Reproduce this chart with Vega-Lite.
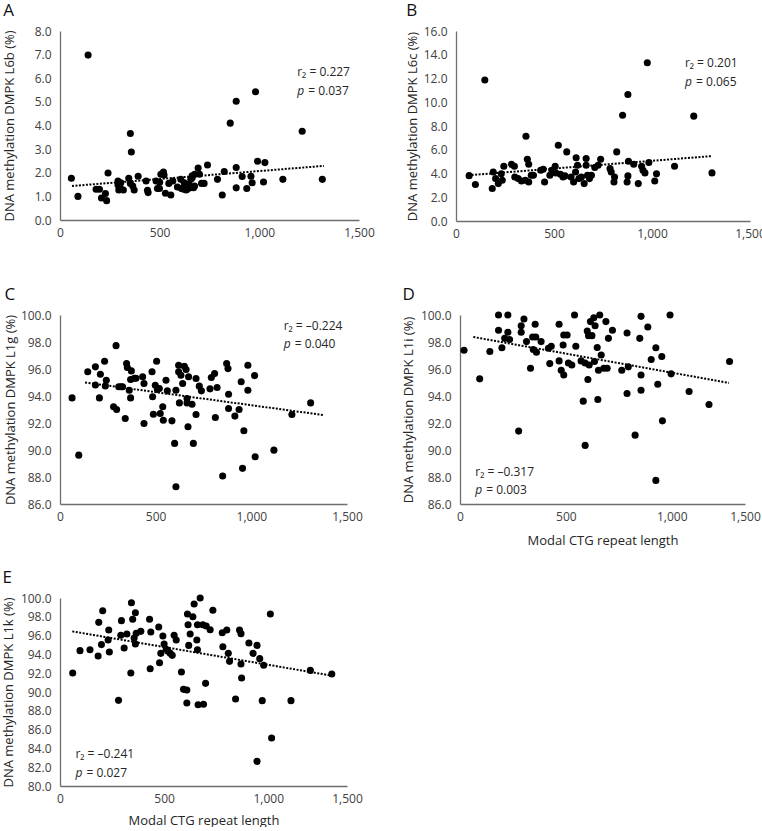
{
  "$schema": "https://vega.github.io/schema/vega-lite/v6.json",
  "padding": {"left": 2, "top": 2, "right": 0, "bottom": 0},
  "background": "white",
  "config": {
    "view": {"stroke": null},
    "font": "Open Sans",
    "axis": {"domainColor": "#6e6e6e", "domainWidth": 1.3, "ticks": false, "tickSize": 0, "grid": false, "labelFont": "Open Sans", "labelFontSize": 12, "labelColor": "#404040", "labelPadding": 7, "labelOverlap": false, "labelFlush": false, "titleFont": "Open Sans", "titleFontSize": 13, "titleFontWeight": "normal", "titleColor": "#262626"},
    "axisY": {"labelPadding": 9, "labelOverlap": false, "labelSeparation": -40},
    "title": {"font": "Open Sans", "fontSize": 17, "fontWeight": "normal", "anchor": "start", "frame": "bounds", "color": "#111111", "offset": 5}
  },
  "datasets": {
    "A": [
      {"x":57,"y":1.77},{"x":90,"y":1.0},{"x":141,"y":6.98},{"x":181,"y":1.30},{"x":198,"y":1.30},{"x":208,"y":0.93},{"x":228,"y":1.12},{"x":234,"y":0.82},{"x":241,"y":1.99},{"x":291,"y":1.65},{"x":295,"y":1.27},{"x":305,"y":1.58},{"x":318,"y":1.27},{"x":345,"y":1.77},{"x":353,"y":3.66},{"x":358,"y":2.88},{"x":353,"y":1.55},{"x":365,"y":1.44},{"x":372,"y":1.27},{"x":392,"y":1.85},{"x":432,"y":1.65},{"x":439,"y":1.26},{"x":442,"y":1.16},{"x":482,"y":1.65},{"x":489,"y":1.33},{"x":499,"y":1.33},{"x":506,"y":1.94},{"x":519,"y":2.03},{"x":529,"y":1.13},{"x":556,"y":1.06},{"x":546,"y":1.55},{"x":566,"y":1.65},{"x":589,"y":1.40},{"x":606,"y":1.72},{"x":609,"y":1.33},{"x":623,"y":1.58},{"x":626,"y":1.41},{"x":633,"y":1.27},{"x":643,"y":1.36},{"x":656,"y":1.72},{"x":663,"y":1.87},{"x":670,"y":1.37},{"x":676,"y":1.94},{"x":693,"y":2.20},{"x":700,"y":1.94},{"x":710,"y":1.55},{"x":723,"y":1.55},{"x":740,"y":2.33},{"x":790,"y":1.72},{"x":814,"y":1.06},{"x":824,"y":2.05},{"x":854,"y":4.10},{"x":884,"y":5.03},{"x":884,"y":2.22},{"x":884,"y":1.36},{"x":914,"y":1.84},{"x":937,"y":1.33},{"x":958,"y":1.85},{"x":964,"y":1.58},{"x":981,"y":5.43},{"x":991,"y":2.49},{"x":1021,"y":1.61},{"x":1028,"y":2.43},{"x":1118,"y":1.72},{"x":1215,"y":3.76},{"x":1316,"y":1.72},
      {"x":291,"y":1.48},{"x":303,"y":1.34},{"x":621,"y":1.30},{"x":638,"y":1.30},{"x":646,"y":1.51},{"x":655,"y":1.37},{"x":663,"y":1.79},{"x":675,"y":1.44},{"x":522,"y":1.90},{"x":500,"y":1.60}
    ],
    "B": [
      {"x":67,"y":3.82},{"x":99,"y":3.07},{"x":147,"y":11.87},{"x":185,"y":2.73},{"x":190,"y":4.13},{"x":202,"y":3.57},{"x":216,"y":3.15},{"x":231,"y":3.97},{"x":236,"y":3.43},{"x":244,"y":4.61},{"x":283,"y":4.78},{"x":298,"y":4.61},{"x":300,"y":3.71},{"x":317,"y":3.57},{"x":334,"y":3.37},{"x":354,"y":3.43},{"x":357,"y":7.14},{"x":364,"y":5.20},{"x":371,"y":4.78},{"x":371,"y":3.29},{"x":384,"y":3.85},{"x":395,"y":3.85},{"x":432,"y":4.27},{"x":445,"y":4.36},{"x":452,"y":3.29},{"x":479,"y":3.85},{"x":489,"y":4.27},{"x":506,"y":4.61},{"x":509,"y":4.05},{"x":522,"y":6.38},{"x":533,"y":3.94},{"x":546,"y":3.71},{"x":565,"y":5.82},{"x":556,"y":3.80},{"x":587,"y":3.71},{"x":600,"y":3.29},{"x":610,"y":4.13},{"x":613,"y":5.32},{"x":620,"y":4.70},{"x":627,"y":3.57},{"x":640,"y":3.71},{"x":654,"y":3.15},{"x":664,"y":5.26},{"x":664,"y":4.70},{"x":671,"y":3.85},{"x":681,"y":3.57},{"x":691,"y":3.85},{"x":708,"y":4.50},{"x":725,"y":4.70},{"x":738,"y":5.20},{"x":786,"y":4.41},{"x":792,"y":4.13},{"x":806,"y":3.29},{"x":809,"y":3.71},{"x":820,"y":5.82},{"x":850,"y":8.91},{"x":873,"y":3.29},{"x":877,"y":3.80},{"x":877,"y":10.66},{"x":880,"y":5.03},{"x":907,"y":4.78},{"x":930,"y":3.15},{"x":947,"y":4.61},{"x":954,"y":4.27},{"x":964,"y":4.05},{"x":976,"y":13.33},{"x":984,"y":4.92},{"x":1014,"y":3.37},{"x":1023,"y":3.97},{"x":1115,"y":4.61},{"x":1213,"y":8.83},{"x":1306,"y":4.05}
    ],
    "C": [
      {"x":63,"y":93.86},{"x":98,"y":89.62},{"x":145,"y":95.79},{"x":185,"y":96.16},{"x":185,"y":94.82},{"x":206,"y":93.86},{"x":211,"y":95.61},{"x":233,"y":96.57},{"x":237,"y":94.75},{"x":242,"y":95.17},{"x":280,"y":93.20},{"x":293,"y":97.73},{"x":296,"y":93.00},{"x":307,"y":94.68},{"x":319,"y":94.68},{"x":327,"y":94.68},{"x":341,"y":92.33},{"x":348,"y":96.40},{"x":352,"y":96.11},{"x":362,"y":94.43},{"x":369,"y":93.86},{"x":373,"y":95.86},{"x":369,"y":95.22},{"x":389,"y":95.32},{"x":397,"y":95.32},{"x":432,"y":95.42},{"x":439,"y":91.96},{"x":439,"y":94.92},{"x":481,"y":95.79},{"x":484,"y":93.94},{"x":488,"y":92.65},{"x":498,"y":94.80},{"x":505,"y":96.57},{"x":509,"y":94.48},{"x":519,"y":94.55},{"x":524,"y":92.70},{"x":537,"y":93.20},{"x":540,"y":92.21},{"x":554,"y":95.17},{"x":561,"y":94.38},{"x":585,"y":92.16},{"x":599,"y":90.49},{"x":606,"y":94.43},{"x":606,"y":87.28},{"x":620,"y":96.28},{"x":620,"y":95.79},{"x":624,"y":93.49},{"x":632,"y":95.54},{"x":641,"y":94.92},{"x":650,"y":96.20},{"x":659,"y":95.96},{"x":664,"y":93.81},{"x":664,"y":93.49},{"x":669,"y":91.72},{"x":672,"y":95.42},{"x":690,"y":93.39},{"x":697,"y":90.49},{"x":711,"y":92.63},{"x":711,"y":95.29},{"x":728,"y":94.73},{"x":739,"y":94.38},{"x":784,"y":94.53},{"x":791,"y":95.37},{"x":808,"y":95.66},{"x":812,"y":92.41},{"x":821,"y":94.63},{"x":850,"y":88.07},{"x":871,"y":96.40},{"x":878,"y":96.03},{"x":881,"y":94.13},{"x":881,"y":93.07},{"x":914,"y":92.51},{"x":936,"y":93.00},{"x":947,"y":95.05},{"x":954,"y":88.64},{"x":961,"y":91.42},{"x":982,"y":96.28},{"x":982,"y":94.43},{"x":1020,"y":89.50},{"x":1017,"y":95.51},{"x":1118,"y":89.99},{"x":1212,"y":92.63},{"x":1310,"y":93.49}
    ],
    "D": [
      {"x":19,"y":97.39},{"x":93,"y":95.27},{"x":141,"y":97.29},{"x":182,"y":100.0},{"x":182,"y":98.87},{"x":198,"y":97.58},{"x":211,"y":98.27},{"x":226,"y":100.0},{"x":226,"y":98.72},{"x":234,"y":98.18},{"x":277,"y":91.40},{"x":289,"y":99.21},{"x":289,"y":98.72},{"x":302,"y":99.70},{"x":314,"y":98.03},{"x":333,"y":96.06},{"x":343,"y":98.37},{"x":346,"y":97.44},{"x":355,"y":99.31},{"x":358,"y":98.37},{"x":361,"y":97.24},{"x":383,"y":98.03},{"x":418,"y":97.54},{"x":424,"y":96.40},{"x":431,"y":97.68},{"x":468,"y":96.60},{"x":468,"y":99.31},{"x":478,"y":95.91},{"x":487,"y":97.78},{"x":490,"y":95.56},{"x":490,"y":98.52},{"x":506,"y":98.52},{"x":512,"y":96.45},{"x":528,"y":96.30},{"x":541,"y":100.0},{"x":547,"y":97.68},{"x":572,"y":96.60},{"x":582,"y":93.62},{"x":591,"y":96.45},{"x":591,"y":90.34},{"x":601,"y":98.82},{"x":604,"y":95.22},{"x":607,"y":98.47},{"x":610,"y":96.30},{"x":616,"y":99.51},{"x":623,"y":98.47},{"x":632,"y":99.80},{"x":638,"y":99.21},{"x":635,"y":96.55},{"x":648,"y":97.59},{"x":651,"y":93.74},{"x":654,"y":95.91},{"x":660,"y":100.0},{"x":667,"y":97.04},{"x":679,"y":96.06},{"x":689,"y":99.51},{"x":695,"y":96.06},{"x":701,"y":98.27},{"x":720,"y":98.87},{"x":764,"y":95.91},{"x":789,"y":94.18},{"x":789,"y":98.67},{"x":795,"y":96.16},{"x":827,"y":91.10},{"x":849,"y":98.27},{"x":855,"y":99.90},{"x":855,"y":95.56},{"x":855,"y":94.43},{"x":887,"y":99.11},{"x":903,"y":96.70},{"x":925,"y":97.58},{"x":934,"y":94.87},{"x":925,"y":87.75},{"x":953,"y":96.92},{"x":956,"y":92.16},{"x":992,"y":100.0},{"x":997,"y":95.64},{"x":1082,"y":94.33},{"x":1176,"y":93.37},{"x":1273,"y":96.55}
    ],
    "E": [
      {"x":61,"y":92.02},{"x":96,"y":94.40},{"x":144,"y":94.50},{"x":183,"y":93.83},{"x":186,"y":97.41},{"x":199,"y":95.04},{"x":205,"y":98.65},{"x":231,"y":95.53},{"x":234,"y":96.60},{"x":237,"y":94.26},{"x":281,"y":89.11},{"x":292,"y":96.03},{"x":295,"y":97.59},{"x":308,"y":94.68},{"x":321,"y":96.17},{"x":340,"y":92.02},{"x":343,"y":99.50},{"x":349,"y":97.73},{"x":356,"y":95.74},{"x":362,"y":98.44},{"x":362,"y":95.11},{"x":366,"y":96.24},{"x":388,"y":96.45},{"x":430,"y":97.73},{"x":433,"y":92.48},{"x":436,"y":96.38},{"x":474,"y":96.91},{"x":478,"y":93.12},{"x":484,"y":94.11},{"x":494,"y":95.96},{"x":500,"y":95.11},{"x":510,"y":94.54},{"x":519,"y":94.33},{"x":529,"y":94.11},{"x":539,"y":93.90},{"x":548,"y":96.03},{"x":558,"y":95.53},{"x":583,"y":92.13},{"x":593,"y":90.28},{"x":609,"y":90.21},{"x":609,"y":88.83},{"x":612,"y":98.30},{"x":615,"y":97.16},{"x":618,"y":94.96},{"x":625,"y":96.17},{"x":638,"y":98.01},{"x":644,"y":99.36},{"x":657,"y":95.53},{"x":660,"y":97.16},{"x":660,"y":94.50},{"x":663,"y":88.65},{"x":673,"y":100.0},{"x":686,"y":97.16},{"x":689,"y":88.69},{"x":699,"y":90.92},{"x":702,"y":97.02},{"x":721,"y":96.63},{"x":734,"y":98.69},{"x":779,"y":96.31},{"x":782,"y":94.82},{"x":801,"y":96.60},{"x":808,"y":94.11},{"x":814,"y":93.26},{"x":843,"y":89.26},{"x":862,"y":96.60},{"x":869,"y":96.21},{"x":869,"y":92.98},{"x":872,"y":91.49},{"x":907,"y":95.21},{"x":927,"y":94.11},{"x":946,"y":94.96},{"x":946,"y":82.62},{"x":959,"y":93.55},{"x":971,"y":89.08},{"x":978,"y":92.84},{"x":1010,"y":98.30},{"x":1016,"y":85.11},{"x":1109,"y":89.08},{"x":1202,"y":92.30},{"x":1305,"y":91.91}
    ],
    "trend": [
      {"panel":"A","x":60,"y":1.44},{"panel":"A","x":1324,"y":2.29},
      {"panel":"B","x":62,"y":3.85},{"panel":"B","x":1301,"y":5.46},
      {"panel":"C","x":131,"y":95.0},{"panel":"C","x":1381,"y":92.58},
      {"panel":"D","x":63,"y":98.37},{"panel":"D","x":1270,"y":94.97},
      {"panel":"E","x":59,"y":96.45},{"panel":"E","x":1297,"y":91.77}
    ],
    "ann": [
      {"panel":"A","kind":"r","x":1190,"y":6.25,"t":"r₂ = 0.227"},
      {"panel":"A","kind":"p","x":1190,"y":5.44,"t":"p"},
      {"panel":"A","kind":"pv","x":1190,"y":5.44,"t":"= 0.037"},
      {"panel":"B","kind":"r","x":1168,"y":13.33,"t":"r₂ = 0.201"},
      {"panel":"B","kind":"p","x":1168,"y":11.73,"t":"p"},
      {"panel":"B","kind":"pv","x":1168,"y":11.73,"t":"= 0.065"},
      {"panel":"C","kind":"r","x":1169,"y":99.16,"t":"r₂ = –0.224"},
      {"panel":"C","kind":"p","x":1169,"y":97.83,"t":"p"},
      {"panel":"C","kind":"pv","x":1169,"y":97.83,"t":"= 0.040"},
      {"panel":"D","kind":"r","x":72,"y":88.39,"t":"r₂ = –0.317"},
      {"panel":"D","kind":"p","x":72,"y":87.04,"t":"p"},
      {"panel":"D","kind":"pv","x":72,"y":87.04,"t":"= 0.003"},
      {"panel":"E","kind":"r","x":74,"y":83.44,"t":"r₂ = –0.241"},
      {"panel":"E","kind":"p","x":74,"y":81.38,"t":"p"},
      {"panel":"E","kind":"pv","x":74,"y":81.38,"t":"= 0.027"}
    ]
  },
  "vconcat": [
    {
      "vconcat": [
        {
          "spacing": 31,
          "hconcat": [
            {
              "title": {"text": "A"},
              "width": 299, "height": 189,
              "encoding": {
                "x": {"field": "x", "type": "quantitative", "scale": {"domain": [0, 1500], "nice": false}, "axis": {"values": [0, 500, 1000, 1500], "format": ",.0f", "labelOverlap": false, "title": null}},
                "y": {"field": "y", "type": "quantitative", "scale": {"domain": [0, 8], "nice": false}, "axis": {"values": [0,1,2,3,4,5,6,7,8], "format": ".1f", "labelOverlap": false, "title": "DNA methylation DMPK L6b (%)", "titlePadding": 18}}
              },
              "layer": [
                {"data": {"name": "A"}, "mark": {"type": "circle", "size": 50, "opacity": 1, "color": "#000000"}},
                {"data": {"name": "trend"}, "transform": [{"filter": "datum.panel === 'A'"}], "mark": {"type": "line", "strokeDash": [2, 1.5], "strokeWidth": 2, "color": "#000000"}},
                {"data": {"name": "ann"}, "transform": [{"filter": "datum.panel === 'A' && datum.kind === 'r'"}], "mark": {"type": "text", "align": "left", "baseline": "middle", "fontSize": 12, "color": "#262626"}, "encoding": {"text": {"field": "t"}}},
                {"data": {"name": "ann"}, "transform": [{"filter": "datum.panel === 'A' && datum.kind === 'p'"}], "mark": {"type": "text", "align": "left", "baseline": "middle", "fontSize": 12, "fontStyle": "italic", "color": "#262626"}, "encoding": {"text": {"field": "t"}}},
                {"data": {"name": "ann"}, "transform": [{"filter": "datum.panel === 'A' && datum.kind === 'pv'"}], "mark": {"type": "text", "align": "left", "baseline": "middle", "fontSize": 12, "dx": 11, "color": "#262626"}, "encoding": {"text": {"field": "t"}}}
              ]
            },
            {
              "title": {"text": "B"},
              "width": 294, "height": 190,
              "encoding": {
                "x": {"field": "x", "type": "quantitative", "scale": {"domain": [0, 1500], "nice": false}, "axis": {"values": [0, 500, 1000, 1500], "format": ",.0f", "labelOverlap": false, "title": null}},
                "y": {"field": "y", "type": "quantitative", "scale": {"domain": [0, 16], "nice": false}, "axis": {"values": [0,2,4,6,8,10,12,14,16], "format": ".1f", "labelOverlap": false, "title": "DNA methylation DMPK L6c (%)", "titlePadding": 4}}
              },
              "layer": [
                {"data": {"name": "B"}, "mark": {"type": "circle", "size": 50, "opacity": 1, "color": "#000000"}},
                {"data": {"name": "trend"}, "transform": [{"filter": "datum.panel === 'B'"}], "mark": {"type": "line", "strokeDash": [2, 1.5], "strokeWidth": 2, "color": "#000000"}},
                {"data": {"name": "ann"}, "transform": [{"filter": "datum.panel === 'B' && datum.kind === 'r'"}], "mark": {"type": "text", "align": "left", "baseline": "middle", "fontSize": 12, "color": "#262626"}, "encoding": {"text": {"field": "t"}}},
                {"data": {"name": "ann"}, "transform": [{"filter": "datum.panel === 'B' && datum.kind === 'p'"}], "mark": {"type": "text", "align": "left", "baseline": "middle", "fontSize": 12, "fontStyle": "italic", "color": "#262626"}, "encoding": {"text": {"field": "t"}}},
                {"data": {"name": "ann"}, "transform": [{"filter": "datum.panel === 'B' && datum.kind === 'pv'"}], "mark": {"type": "text", "align": "left", "baseline": "middle", "fontSize": 12, "dx": 11, "color": "#262626"}, "encoding": {"text": {"field": "t"}}}
              ]
            }
          ]
        },
        {
          "spacing": 39,
          "hconcat": [
            {
              "title": {"text": "C"},
              "width": 287, "height": 189,
              "encoding": {
                "x": {"field": "x", "type": "quantitative", "scale": {"domain": [0, 1500], "nice": false}, "axis": {"values": [0, 500, 1000, 1500], "format": ",.0f", "labelOverlap": false, "title": null}},
                "y": {"field": "y", "type": "quantitative", "scale": {"domain": [86, 100], "nice": false, "zero": false}, "axis": {"values": [86,88,90,92,94,96,98,100], "format": ".1f", "labelOverlap": false, "title": "DNA methylation DMPK L1g (%)", "titlePadding": 3}}
              },
              "layer": [
                {"data": {"name": "C"}, "mark": {"type": "circle", "size": 50, "opacity": 1, "color": "#000000"}},
                {"data": {"name": "trend"}, "transform": [{"filter": "datum.panel === 'C'"}], "mark": {"type": "line", "strokeDash": [2, 1.5], "strokeWidth": 2, "color": "#000000"}},
                {"data": {"name": "ann"}, "transform": [{"filter": "datum.panel === 'C' && datum.kind === 'r'"}], "mark": {"type": "text", "align": "left", "baseline": "middle", "fontSize": 12, "color": "#262626"}, "encoding": {"text": {"field": "t"}}},
                {"data": {"name": "ann"}, "transform": [{"filter": "datum.panel === 'C' && datum.kind === 'p'"}], "mark": {"type": "text", "align": "left", "baseline": "middle", "fontSize": 12, "fontStyle": "italic", "color": "#262626"}, "encoding": {"text": {"field": "t"}}},
                {"data": {"name": "ann"}, "transform": [{"filter": "datum.panel === 'C' && datum.kind === 'pv'"}], "mark": {"type": "text", "align": "left", "baseline": "middle", "fontSize": 12, "dx": 11, "color": "#262626"}, "encoding": {"text": {"field": "t"}}}
              ]
            },
            {
              "title": {"text": "D"},
              "width": 285, "height": 189,
              "encoding": {
                "x": {"field": "x", "type": "quantitative", "scale": {"domain": [0, 1346], "nice": false}, "axis": {"values": [0, 500, 1000, 1346], "labelOverlap": false, "labelExpr": "datum.value > 1200 ? '1,500' : format(datum.value, ',.0f')", "title": "Modal CTG repeat length", "titlePadding": 12}},
                "y": {"field": "y", "type": "quantitative", "scale": {"domain": [86, 100], "nice": false, "zero": false}, "axis": {"values": [86,88,90,92,94,96,98,100], "format": ".1f", "labelOverlap": false, "title": "DNA methylation DMPK L1i (%)", "titlePadding": 5}}
              },
              "layer": [
                {"data": {"name": "D"}, "mark": {"type": "circle", "size": 50, "opacity": 1, "color": "#000000"}},
                {"data": {"name": "trend"}, "transform": [{"filter": "datum.panel === 'D'"}], "mark": {"type": "line", "strokeDash": [2, 1.5], "strokeWidth": 2, "color": "#000000"}},
                {"data": {"name": "ann"}, "transform": [{"filter": "datum.panel === 'D' && datum.kind === 'r'"}], "mark": {"type": "text", "align": "left", "baseline": "middle", "fontSize": 12, "color": "#262626"}, "encoding": {"text": {"field": "t"}}},
                {"data": {"name": "ann"}, "transform": [{"filter": "datum.panel === 'D' && datum.kind === 'p'"}], "mark": {"type": "text", "align": "left", "baseline": "middle", "fontSize": 12, "fontStyle": "italic", "color": "#262626"}, "encoding": {"text": {"field": "t"}}},
                {"data": {"name": "ann"}, "transform": [{"filter": "datum.panel === 'D' && datum.kind === 'pv'"}], "mark": {"type": "text", "align": "left", "baseline": "middle", "fontSize": 12, "dx": 11, "color": "#262626"}, "encoding": {"text": {"field": "t"}}}
              ]
            }
          ]
        }
      ],
      "spacing": 47
    },
    {
      "title": {"text": "E"},
      "width": 287, "height": 188,
      "encoding": {
        "x": {"field": "x", "type": "quantitative", "scale": {"domain": [0, 1378], "nice": false}, "axis": {"values": [0, 500, 1000, 1378], "labelOverlap": false, "labelExpr": "datum.value > 1200 ? '1,500' : format(datum.value, ',.0f')", "title": "Modal CTG repeat length", "titlePadding": 10}},
        "y": {"field": "y", "type": "quantitative", "scale": {"domain": [80, 100], "nice": false, "zero": false}, "axis": {"values": [80,82,84,86,88,90,92,94,96,98,100], "format": ".1f", "labelOverlap": false, "title": "DNA methylation DMPK L1k (%)", "titlePadding": 5}}
      },
      "layer": [
        {"data": {"name": "E"}, "mark": {"type": "circle", "size": 50, "opacity": 1, "color": "#000000"}},
        {"data": {"name": "trend"}, "transform": [{"filter": "datum.panel === 'E'"}], "mark": {"type": "line", "strokeDash": [2, 1.5], "strokeWidth": 2, "color": "#000000"}},
        {"data": {"name": "ann"}, "transform": [{"filter": "datum.panel === 'E' && datum.kind === 'r'"}], "mark": {"type": "text", "align": "left", "baseline": "middle", "fontSize": 12, "color": "#262626"}, "encoding": {"text": {"field": "t"}}},
        {"data": {"name": "ann"}, "transform": [{"filter": "datum.panel === 'E' && datum.kind === 'p'"}], "mark": {"type": "text", "align": "left", "baseline": "middle", "fontSize": 12, "fontStyle": "italic", "color": "#262626"}, "encoding": {"text": {"field": "t"}}},
        {"data": {"name": "ann"}, "transform": [{"filter": "datum.panel === 'E' && datum.kind === 'pv'"}], "mark": {"type": "text", "align": "left", "baseline": "middle", "fontSize": 12, "dx": 11, "color": "#262626"}, "encoding": {"text": {"field": "t"}}}
      ]
    }
  ],
  "spacing": 22
}
